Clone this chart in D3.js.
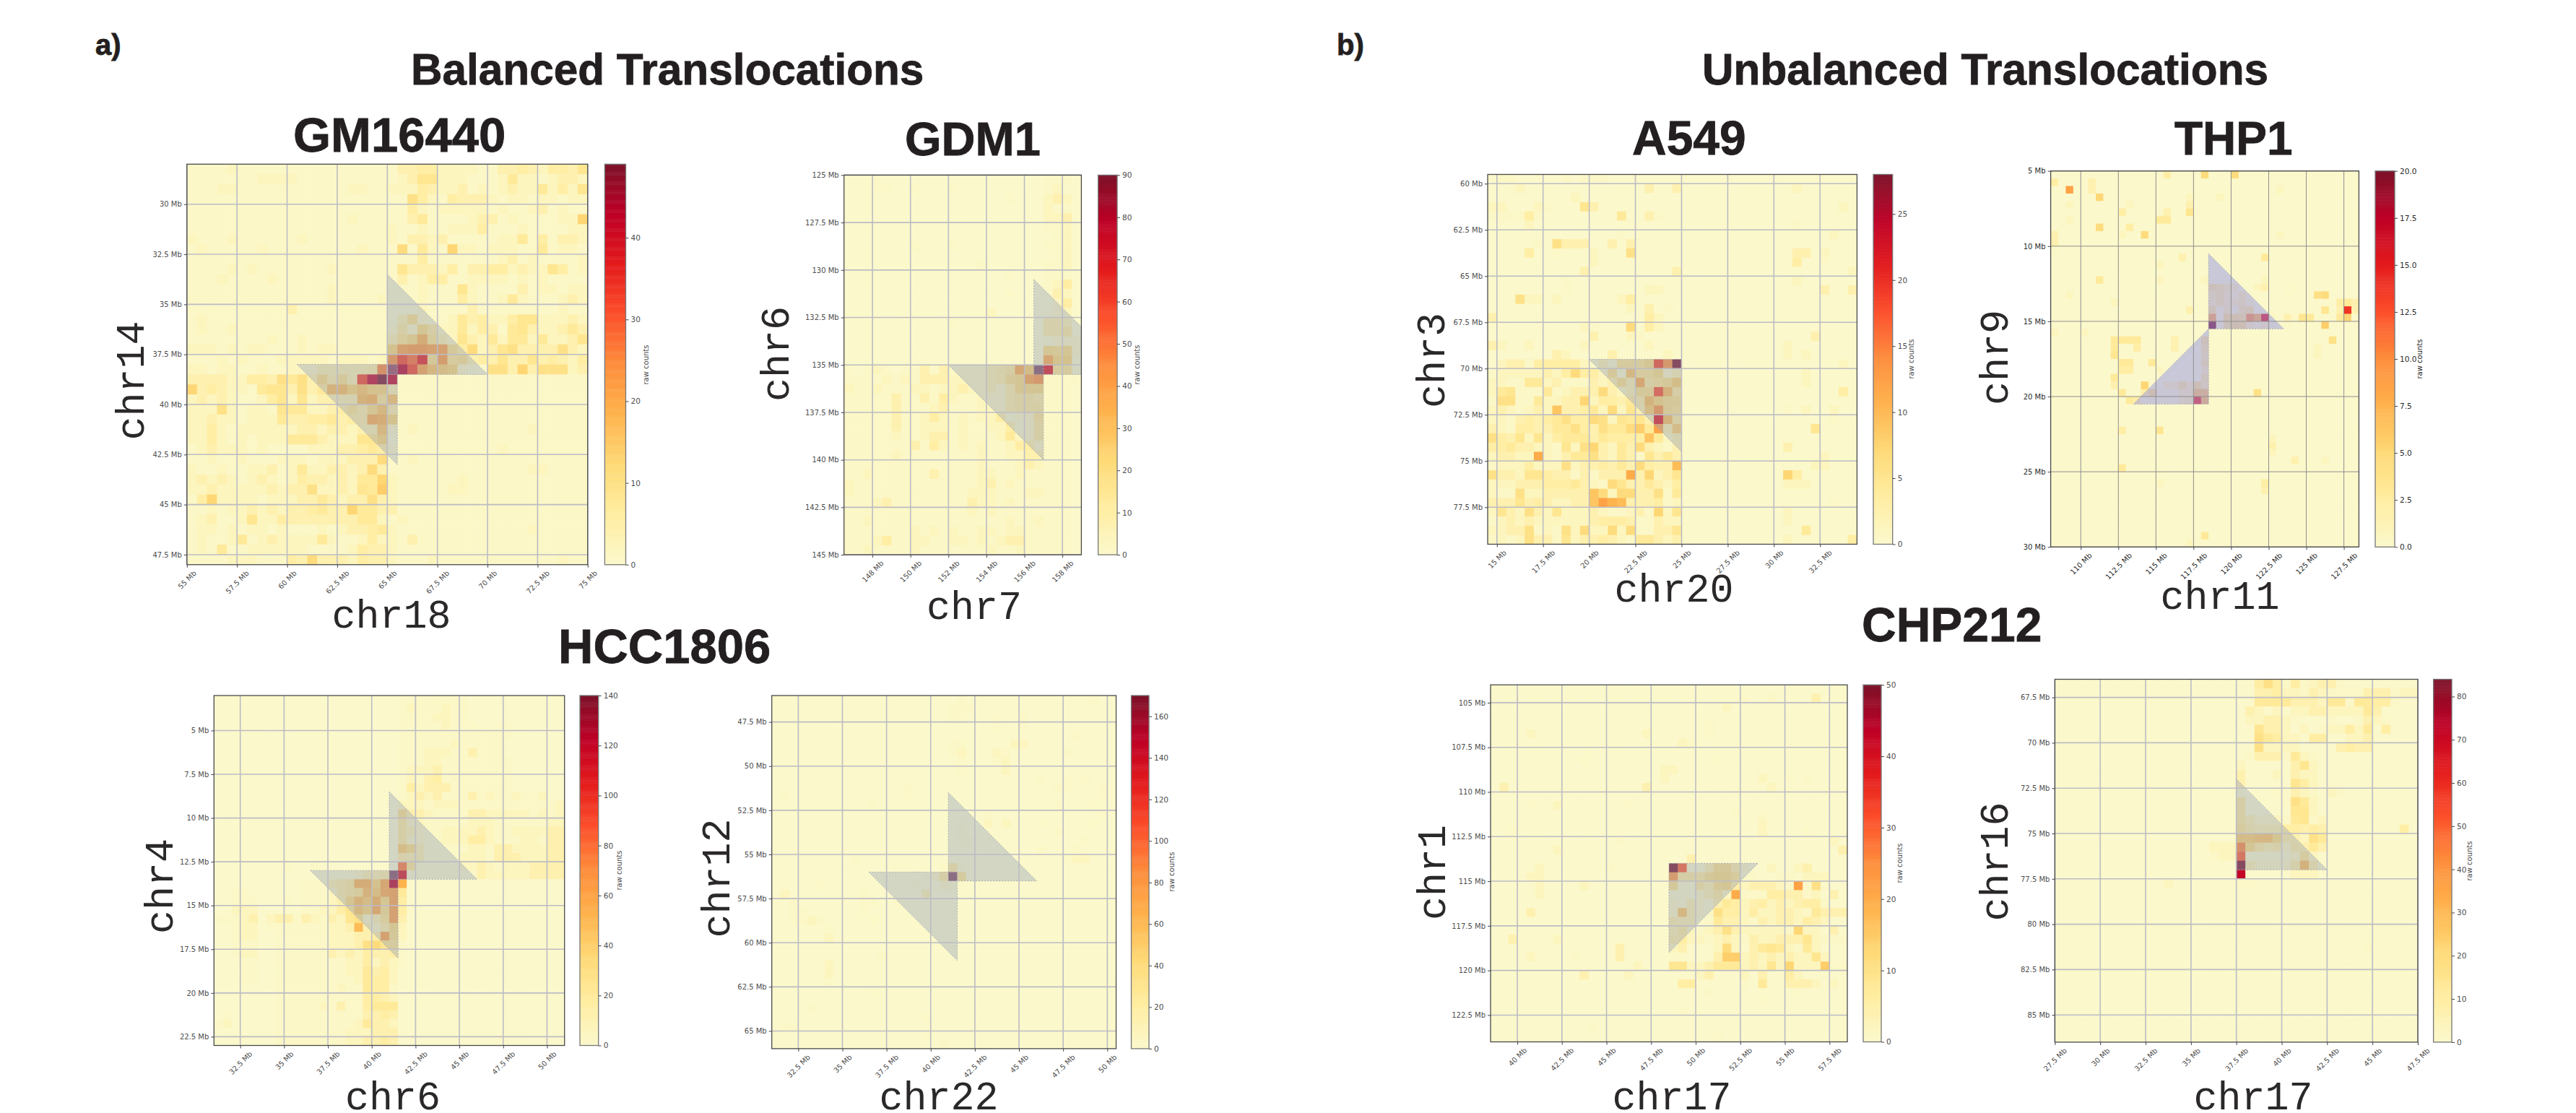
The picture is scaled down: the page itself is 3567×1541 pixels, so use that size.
<!DOCTYPE html>
<html><head><meta charset="utf-8">
<style>html,body{margin:0;background:#fff}svg{display:block}</style>
<script src="https://cdn.jsdelivr.net/npm/d3@7"></script></head><body>
<script>
// Every cell is one base-36 character: a level on a 0..35 scale of the panel's colour-bar maximum.
const rowsGM16440=[
"1111211111 1111111111 1334422221 1334324436","1111111222 2111111111 1236622211 1252212332","1112211111 1111112211 2224322312 1232252426","1111111111 1111111111 1174214333 2122122122",
"1111111111 1111111111 1142122222 1211231211","1111111111 1111112111 1135111123 3121111229","1111111111 1111111111 2112112224 1112111122","2111211111 1211111111 2133231111 1225141332",
"1211111211 1111111211 1815219221 2221151221","1111111111 1111111111 1114111111 1231211112","1111212111 1111211111 1633324133 4423226412","1112111121 1111111111 1312441122 2212121111",
"1111111111 1111211111 1112111621 1113122122","1111111111 1111211112 1112111421 1252111232","1111111111 3111111111 1112111131 1111111211","1211111111 1111111111 1372112534 2246622232",
"1211211111 1111111111 2528522524 3156322353","1111111121 1211111111 368d632632 5255252236","2221212211 1212211111 9fggff7482 3673333732","1112121112 2222122212 hnkq7g6734 3633634324",
"2212211211 222333334i xvnfba9210 7739377723","3333224437 5738473nuz u111111111 1111111111","9343221566 3735cc9b99 3111111111 1111111111","2323211246 2623333cd6 b111111111 1111111111",
"2227212216 552234648b 4111111111 1111111111","2232212225 33445344ed 9111111111 1111111111","2242122222 233233233b 2121111111 1111211111","2242121222 5553222669 1111111111 1111111111",
"1232221211 1122233454 2111111111 1211111111","1121121112 2212223338 1121111111 1111111111","2112112231 2522332383 1111111111 1111221111","2323212321 2433232559 2111111211 1111111111",
"2232222232 337223265a 2111112211 1111111111","1492222122 2335323373 2111111111 1111111111","1121223232 3345339553 3111111111 1111111111","1231126224 3333333552 1211111111 1111111111",
"1221212212 1112123345 2111111111 1111211111","1211251232 2225211242 2131111111 1111111111","1215112222 2211112433 2111111111 1111111111","1111222111 4383332433 2111211111 1111111211"];
const rowsGDM1=[
"0001000000 0000000000 01110","0001100100 0100000000 01200","0000000000 0000000100 02320","0000000000 0000000000 02110","0000000000 0000000000 02230","0000000000 0000000000 01120","0000000000 0000000000 00120",
"0000000100 0100000000 01120","0000000000 0000000000 00120","0000000000 0000100000 01120","0000000000 0000000100 01110","0000000000 0000000000 01240","0000000000 0000000100 01320","0000000000 0000000000 00240",
"0000000000 0000020000 01220","0000000000 0100000000 04430","0000000000 0000000000 04450","0000000000 0000000000 01222","0000000000 0000000000 08782","0000000000 0000000000 0e991",
"1012101131 31222345ea zr661","1111212133 322223478f h1111","2112111221 2232232488 81110","1111131131 4211222455 41110","1111131112 3111222455 51110","1111131124 2121224122 61110",
"1111131122 2121122412 51110","1111121123 3121112522 51110","1111111314 2121211244 21110","1111121111 1111211223 31110","1111111111 1111211123 21110","1121111113 1111221121 11110",
"2111111111 1111231211 11110","2111111111 1112221112 21110","1112311111 1113221211 11110","1111111111 1112121111 11110","1121111111 1111111211 21110","1111111212 1211221221 11110",
"1112411221 1221212331 11110","1121111211 1111121121 11110"];
const rowsHCC4v6=[
"0000000000 0000000000 0111111110 0000000000","0000000000 0000000000 0121112110 0000000000","0000000000 0000000000 0111122110 0000000000","0000000000 0000000000 0111112111 0011000000",
"0000000000 0000000000 0111111111 1111000000","0000000000 0000000000 0111111211 1110000000","0000000000 0000000000 0111222113 1110000000","0000000000 0000000000 0111221111 1111000000",
"0000000000 0000000000 0122231111 1111000000","0000000000 0000000000 0121341111 1111000000","0000000000 0000000000 0142333111 1111000000","0000000000 0000000000 0123231113 1211211200",
"0000000000 0000000000 0222122211 1111111112","0000000000 0000000000 0733211113 3222221212","0000000000 0000000000 0522111112 2211111122","0000000000 0000000000 0532112222 3211222233",
"0000000000 0000000000 0522112224 4211122133","0000000000 0000000000 0a83111112 2133222233","0000000000 0000000000 0433111122 2133322233","0000000010 0100000000 0j61111122 3212223333",
"0000000000 0011112334 zs11111111 3222223333","0000000000 111345dd9e vd00000000 0000000000","0011000000 1112456cae f500000000 0000000000","0011100010 111238cad8 f400000000 0000000000",
"0022200000 112246b9e7 f400000000 0000000000","1112302331 3213267236 f300000000 0000000000","0012201111 111223c324 8200000000 0000000000","0012200111 111222334f 7200000000 0000000000",
"0011100111 1112223786 6100000000 0000000000","0012200111 1113232433 4100000000 0000000000","0001100111 1111122423 2100000000 0000000000","0001100111 1111122534 2000000000 0000000000",
"0001100111 1111112544 2000000000 0000000000","0000000111 1111211544 1000000000 0000000000","0000000111 1111111443 2000000000 0000000000","0000000111 1121311455 5000000000 0000000000",
"0100000111 1111111334 3000000000 0000000000","1200000111 1111112533 2000000000 0000000000","0000000111 1111122233 3000000000 0000000000","0000000111 1111122334 3000000000 0000000000"];
const rowsHCC12v22=[
"0000000000 0000000000 0100000000 000000100","0000000000 0000000000 1110000000 000000000","0000000000 0000000000 1100010010 000000000","0000000000 0000000000 0000010010 000000000",
"0000000000 0000000000 0000000000 000010000","0000000000 0000000000 1100000220 000000000","0000000000 0000000000 1200021000 000100000","0000000000 0000000000 0100012000 000000000",
"0000000000 0000000000 0100002000 000000000","0000000000 0000000000 0000000000 100101000","0000000000 0000010000 0000000000 001100010","0100000000 0000010000 0000000000 000000010",
"0000000000 0100000000 0000000000 001000100","0000000000 0000000000 0000100000 000000010","0000000000 0000000000 0100202000 100000100","0000000000 0000000000 0100000000 001000000",
"0000000000 0000000000 0110000000 000001000","0000000000 0000000000 0000000000 100010000","0000000001 0000000000 0000000000 000122000","0000000000 0000000001 5100000000 000000000",
"0000000000 0000000125 z600000000 000000000","0000010000 0000001002 1000000000 000000000","0200000000 1000000300 0000000000 000000000","0010000000 1100100000 0000000000 000000000",
"0011000000 1000000000 0000000000 000000000","0011210000 0100000000 0000000000 000000000","0000001000 0000000000 0000000000 000000000","0000002000 0000000000 0000000000 000000000",
"0000000000 0000000000 0000000000 000000000","0000000000 0010000000 0000000000 000000000","0000002000 0000000000 0000000000 000000000","0000002000 0000000000 0000000000 000000000",
"0000001000 0000000000 0000000000 000000000","0000000000 0100000000 0000000000 000000000","0000000000 0000000000 0000000000 000000000","0000100000 0000000000 0000000000 000000000",
"0000000000 0000000100 0000000000 000000000","0110000000 0000000000 0000000000 000000000","0000000000 0000000100 0000000000 000000000","0000000000 0000000001 0000000000 000000000"];
const rowsA549=[
"0110000010 1110000000 0000000000 0000000000","0002000000 0000000300 3000000000 0002000000","0000000002 0000000000 0000000000 0000000000","2200021000 6300000000 0000000000 0000000020",
"1111410000 0000500310 0000000000 0000000000","0000200000 0000000000 0000000000 0001000000","0000000000 0000100000 0000000000 0000000200","0000010733 3003030000 0000000000 0000000000",
"0000400100 0200070000 0000000000 0003302000","0000000000 0200000000 0000000000 0004001000","0000000000 3000000000 3000000000 0000000002","0000000010 0000000000 0000000000 0002000000",
"0000000010 0000000220 0000000000 0000003003","0007220200 0000240000 0000000000 0000000000","0000000000 0000020301 0000000000 0000000000","3000000000 0000000420 0000000000 0000000000",
"0000000000 2100080420 0000000000 0000000000","0000000000 0300021000 0000000000 0000030000","3200200000 2000000200 0000000000 0020000000","0000000320 0003000002 0000000000 0020200000",
"0233144444 21316668nh z000000000 0000000020","1222223248 44271b6682 3000000000 0000200000","2211552311 132373e567 a000000000 0000200000","2561115123 33832377mc 5000000000 0000000040",
"1771152233 9244354c97 7000000000 0000000000","2321232b33 4528263ah7 6000000000 0010200200","2213434574 48726563rc 5000000000 0000000100","3214433557 437558a5f3 a000000000 0000060000",
"7436262455 5354444b52 3000000000 0000000000","4453322162 7932538321 3000000000 0030000000","23322e2135 5732531635 3000000000 0000002000","1222422272 3343538433 c000000000 0000022000",
"7332664331 31333e3923 6000000000 0094000000","2223334445 3218633532 4000000000 0022200000","2117223333 3b82883371 5000000000 0000000000","3336343223 3bfdc33341 2000000000 0000000100",
"2632732622 2321123192 6000000000 0020000000","1232322222 2344431132 2000000000 0020000000","2233712172 8228281133 6000000000 0000500000","1212733162 3343215532 3000000000 0020000004"];
const rowsTHP1=[
"0000000000 0000040000 8000800000 00000000000","4000030000 0000000000 0000000000 00000000000","00f0030000 0000000000 0000000000 20000000000","0000009000 0000000020 0020000000 00000000000",
"0020000000 2000000030 0000000000 00000000000","0000000004 0000030060 0000000000 00000000000","0020000000 0000550000 0000000000 00000000000","0000008000 4000000000 0000000000 00000000000",
"3000000002 0080000000 0000000000 20000000000","3000000000 0000000000 0000000000 00000000000","1000000000 0000000000 0000000000 00000000000","0000000000 0000000300 0000000050 00000000000",
"0000000000 0000200000 0000000000 00000000000","0000000000 0000000000 0000000010 00000000000","0000005000 0000200000 2000000020 00000000000","0000000000 0000000000 0654300230 00100000000",
"0020000000 0000000000 0453240000 01000780000","0000000020 0000000000 0353342000 00000000453","0000000000 0000000030 0614156000 000000603o3","0000000000 0000000000 0e1776hdr1 03165000590",
"0000000000 0000000000 0z16773231 010000a0000","2000200000 0000000000 0000000000 00000000000","0000000055 5500003000 6000000000 00000007000","0000000050 0400003000 5000000000 00000200000",
"0000000060 0000000000 4000000000 00000200000","0000000005 5005000000 5000000000 00000000000","0000000004 4000200000 3000000000 00000000000","0000000050 0000000000 5000000000 00000000000",
"0000000030 0090033637 4000000000 00000000000","0000000005 004711133b b000000700 00000000000","0000000000 541112134p c000000000 00000000000","0000000000 0000000000 0000000000 00000000000",
"0000000000 0000000000 0000000000 00000000000","0000000000 0000000000 0000000000 00000000000","0000000004 0000600000 0000000000 00000000000","0000000000 0000000000 0000000002 00000000000",
"0000000000 0000000000 0000000003 00000000000","0000000000 0000000000 0000000002 00000000000","0000000000 0000000000 0000000000 00300020000","0000000005 0000000000 0000000000 00000000000",
"0000000000 0000000000 0000000000 00000000000","0000000000 0000200000 0000000040 00000000000","0000000000 0000000000 0000000030 00000000000","0000000000 0000000000 0000000000 00000000000",
"0000000000 0000000000 0000000000 00000000000","0000000000 0000000000 0000000000 00000000000","0000000000 0000000000 0000000000 00000000000","0000000000 0000000000 0000000000 00000000000",
"0000000000 0000000000 5000000000 00000000000","0000000000 0000000020 0000000000 00000000000"];
const rowsCHP1v17=[
"0000000000 0000000000 0000000000 0000000000","0000000000 0000000000 0000000010 0100003000","0000000000 0000000000 0000002000 0000000000","0000000000 0000000000 0000000000 0000000000",
"0000000000 0000000000 0000100000 0000000000","0000200000 0000000200 0000100000 0000000000","0000000000 0000000000 0210000000 0000000000","0000000000 0000000000 0000000000 0000000000",
"0000000000 1000000000 0000010000 0000000000","0000000000 0000000002 2000000000 0000000000","0000000000 0000000002 0000000000 2001010000","0300000000 0000000300 0000000000 0200000000",
"0000000000 0000000000 0000000000 0000000000","0000100200 0000010000 0000000000 0000000000","0000000000 0000000000 0000000100 1000000000","0000000000 0000000000 0000000000 2000000000",
"0010000000 0000000000 0000000000 2000010000","0000000000 0000100000 0000000000 0000000020","0000000200 0000000000 0000000000 0000000003","0000000000 0000000000 0030000000 0000000000",
"0000020000 0001000000 zl11377420 0200230000","0000220000 0000000000 g555788611 0011022200","0000020000 2000000000 7115378423 3321f17100","0000020000 0000000000 1112352e11 1443312030",
"0000000000 0000000000 2132135423 4232344100","0000300000 0000000000 2b32174424 2233215333","0000000000 0000000000 4331153321 3233243200","0000000000 0000000000 3521237322 2221922030",
"0030000200 0000000000 4422123213 2233362111","0000000000 0000300000 2300028203 5652152000","0000200001 0000300000 110003aa23 2323226200","0000000000 0000002000 6622355523 2629222a11",
"0000000000 3000020000 0002300020 3004200000","0000000000 0000000000 0440000010 5003332020","0000000000 0000000000 0000100000 0000100000","0000000000 0000000000 0000000000 1000000000",
"0000000000 0000000000 0100000000 0000000000","0000000000 0000000000 0000000000 0000000000","0000000000 0100000000 0000000000 0000000000","0000000000 0000000000 0000010000 0000000000"];
const rowsCHP16v17=[
"0000000000 0000000000 0047414123 3100000000","0000000000 0000000000 0033422132 1111333122","0000000000 0000000000 0055553332 5515544100","0000000000 0000000000 0320202233 2222530000",
"0000000000 0000000000 0223321000 1001321000","0000000000 0000000000 0063320201 2242504000","0000000000 0000000000 0075422044 0022300000","0000000000 0000000000 0072222000 0343300000",
"0000000000 0000000000 0133315210 0000000000","0000000000 0000000000 2000003620 0000000000","0000000000 0000000000 3000203220 0000000000","0000000000 0000000000 3000006420 0000000000",
"0000000000 0000000000 1000103210 2100000000","0000000000 0000000000 5000017520 0000000000","0000000000 0000000000 5000006620 0000000000","0000000000 0000000000 5322215612 0000000000",
"0000000000 0000000000 6433344343 0000000040","0000000000 0000000000 aabb843275 0000000000","0000000000 0000000222 i853424353 0000000000","0000000000 0000000122 l111112620 0000000000",
"0000000000 0000000000 z322224c41 0000000000","0000000000 0000000000 u000002220 0000000000","0000000000 0020000000 1100000000 0000000000","0000000000 0000000000 0000000000 0000000000",
"0000000000 0000000000 0000000000 0000000000","0000000000 0000000000 0000000000 0000000000","0000000000 0000000000 0000000000 0000000000","0000000000 0000000000 0000000000 0000000000",
"0000000000 0000000000 0000000000 0000000000","0000000000 0000000000 0000000000 0000100000","0000000000 0000000000 0000000000 0000000000","0000000000 0000000000 0000000000 0000000000",
"0000000000 0000000000 0000000000 0000000000","0000000000 0000000000 0000000000 0000000000","0000000000 0000000000 0000000000 0000000000","0000000000 0000000000 0000000000 0000000000",
"0000000000 0000000000 0000000000 0000000000","0000000000 0000000000 0000000000 0000000000","0000000000 0000000000 0000000000 0000000000","0000000000 0000000000 0000000000 0000000000"];

// The two palest levels are fainter than a whole step of the scale
const paleLevels=[0,0.4,1.3];

// Colour-bar ticks
const cbarTicks50by10=[0,10,20,30,40];
const cbarTicks90=[0,10,20,30,40,50,60,70,80,90];
const cbarTicks140=[0,20,40,60,80,100,120,140];
const cbarTicks160=[0,20,40,60,80,100,120,140,160];
const cbarTicks25=[0,5,10,15,20,25];
const cbarTicks20=[0,2.5,5,7.5,10,12.5,15,17.5,20];
const cbarTicks50=[0,10,20,30,40,50];
const cbarTicks80=[0,10,20,30,40,50,60,70,80];

// Axis ticks (Mb) and marked triangles (Mb)
const xTicks1=[55,57.5,60,62.5,65,67.5,70,72.5,75], yTicks1=[30,32.5,35,37.5,40,42.5,45,47.5];
const xTicks2=[148,150,152,154,156,158], yTicks2=[125,127.5,130,132.5,135,137.5,140,142.5,145];
const xTicks3=[32.5,35,37.5,40,42.5,45,47.5,50], yTicks3=[5,7.5,10,12.5,15,17.5,20,22.5];
const xTicks4=[32.5,35,37.5,40,42.5,45,47.5,50], yTicks4=[47.5,50,52.5,55,57.5,60,62.5,65];
const xTicks5=[15,17.5,20,22.5,25,27.5,30,32.5], yTicks5=[60,62.5,65,67.5,70,72.5,75,77.5];
const xTicks6=[110,112.5,115,117.5,120,122.5,125,127.5], yTicks6=[5,10,15,20,25,30];
const xTicks7=[40,42.5,45,47.5,50,52.5,55,57.5], yTicks7=[105,107.5,110,112.5,115,117.5,120,122.5];
const xTicks8=[27.5,30,32.5,35,37.5,40,42.5,45,47.5], yTicks8=[67.5,70,72.5,75,77.5,80,82.5,85];
const tri1=[[[65,33.5],[65,38.5],[70,38.5]],[[60.5,38],[65.5,38],[65.5,43]]];
const tri2=[[[156.5,130.5],[156.5,135.5],[161.5,135.5]],[[152,135],[157,135],[157,140]]];
const tri3=[[[41,8.5],[41,13.5],[46,13.5]],[[36.5,13],[41.5,13],[41.5,18]]];
const tri4=[[[41,51.5],[41,56.5],[46,56.5]],[[36.5,56],[41.5,56],[41.5,61]]];
const tri5=[[[20,69.5],[25,69.5],[25,74.5]]];
const tri6=[[[118.5,10.5],[118.5,15.5],[123.5,15.5]],[[118.5,15.5],[118.5,20.5],[113.5,20.5]]];
const tri7=[[[48.5,114],[53.5,114],[48.5,119]]];
const tri8=[[[37.5,72],[37.5,77],[42.5,77]]];

// Layout table: data references plus pixel boxes
const panels=[
{rows:rowsGM16440,max:49,xd:[55,75],yd:[28,48],xt:xTicks1,yt:yTicks1,cb:cbarTicks50by10,tri:tri1,box:[258.8,227.3,813.8,781.8],cbx:[837.4,866.5],xl:["chr18",542,869],yl:["chr14",199,527],rc:[894,505]},
{rows:rowsGDM1,max:90,xd:[146.5,159],yd:[125,145],xt:xTicks2,yt:yTicks2,cb:cbarTicks90,tri:tri2,box:[1168.7,242.4,1497.4,768.1],cbx:[1520.6,1547],xl:["chr7",1349,857],yl:["chr6",1092,490],rc:[1574,505]},
{rows:rowsHCC4v6,max:140,xd:[31,51],yd:[3,23],xt:xTicks3,yt:yTicks3,cb:cbarTicks140,tri:tri3,box:[296.3,963,781.7,1447.5],cbx:[803,828.7],xl:["chr6",544,1536],yl:["chr4",239,1227],rc:[857,1205]},
{rows:rowsHCC12v22,max:170,xd:[31,50.5],yd:[46,66],xt:xTicks4,yt:yTicks4,cb:cbarTicks160,tri:tri4,box:[1068.7,963,1545.5,1451.9],cbx:[1566.5,1591],xl:["chr22",1300,1536],yl:["chr12",1010,1216],rc:[1622,1207]},
{rows:rowsA549,max:28,xd:[14.5,34.5],yd:[59.5,79.5],xt:xTicks5,yt:yTicks5,cb:cbarTicks25,tri:tri5,box:[2060,241.5,2571.4,753.5],cbx:[2594,2620.7],xl:["chr20",2318,833],yl:["chr3",2000,499],rc:[2646,497]},
{rows:rowsTHP1,max:20,xd:[108,128.5],yd:[5,30],xt:xTicks6,yt:yTicks6,cb:cbarTicks20,tri:tri6,box:[2839.6,236.7,3266.4,757.3],cbx:[3289,3316],xl:["chr11",3074,843],yl:["chr9",2780,495],rc:[3350,497],thp:true},
{rows:rowsCHP1v17,max:50,xd:[38.5,58.5],yd:[104,124],xt:xTicks7,yt:yTicks7,cb:cbarTicks50,tri:tri7,box:[2064,948.2,2558,1442.5],cbx:[2580,2605],xl:["chr17",2315,1536],yl:["chr1",2001,1208],rc:[2630,1195]},
{rows:rowsCHP16v17,max:84,xd:[27.5,47.5],yd:[66.5,86.5],xt:xTicks8,yt:yTicks8,cb:cbarTicks80,tri:tri8,box:[2845.4,940.5,3348,1442.9],cbx:[3369.6,3395],xl:["chr17",3120,1536],yl:["chr16",2780,1193],rc:[3419,1192]}
];
const headings=[
["a)",132,76,40],["b)",1851,76,40],
["Balanced Translocations",569,117,60.3],["Unbalanced Translocations",2357,117,60.3],
["GM16440",406,210,67],["GDM1",1253,215,65],["HCC1806",773,918,67],
["A549",2260,214,66],["THP1",3011,214,64],["CHP212",2578,888,66]];
const binSize=0.5;

const svg=d3.select("body").append("svg").attr("width",3567).attr("height",1541)
  .style("background","#fff");
const soft=svg.append("defs").append("filter").attr("id","soft")
  .attr("x","-2%").attr("y","-2%").attr("width","104%").attr("height","104%")
  .attr("color-interpolation-filters","sRGB");
soft.append("feGaussianBlur").attr("stdDeviation",0.7);
const palette=d3.piecewise(d3.interpolateRgb,["#fbf8cb","#ffeda0","#fed976","#feb24c","#fd8d3c","#fc4e2a","#e31a1c","#bd0026","#7b1228"]);
const mb=d=>d+" Mb", sans="DejaVu Sans", tickCol="#4d4d4d", inkCol="#2b2829";

panels.forEach((p,pi)=>{
  const [x0,y0,x1,y1]=p.box;
  const x=d3.scaleLinear().domain(p.xd).range([x0,x1]);
  const y=d3.scaleLinear().domain(p.yd).range([y0,y1]);
  const col=d3.scaleSequential(palette).domain([0,p.max]);
  const g=svg.append("g");
  const clipId="clip"+pi;
  svg.append("clipPath").attr("id",clipId).append("rect").attr("x",x0).attr("y",y0).attr("width",x1-x0).attr("height",y1-y0);
  const cells=[];
  p.rows.forEach((s,r)=>{ s.replace(/ /g,"").split("").forEach((ch,c)=>{
    const L=parseInt(ch,36);
    cells.push({r,c,v:(L<paleLevels.length?paleLevels[L]:L)*p.max/35});
  }); });
  g.append("g").attr("clip-path",`url(#${clipId})`).append("g").attr("filter","url(#soft)")
    .selectAll("rect").data(cells).join("rect")
    .attr("x",d=>x(p.xd[0]+d.c*binSize)).attr("y",d=>y(p.yd[0]+d.r*binSize))
    .attr("width",d=>x(p.xd[0]+(d.c+1)*binSize)-x(p.xd[0]+d.c*binSize)+.4)
    .attr("height",d=>y(p.yd[0]+(d.r+1)*binSize)-y(p.yd[0]+d.r*binSize)+.4)
    .attr("fill",d=>col(d.v));
  const line=d3.line().x(d=>x(d[0])).y(d=>y(d[1]));
  g.append("g").attr("clip-path",`url(#${clipId})`).selectAll("path").data(p.tri).join("path")
    .attr("d",d=>line(d)+"Z")
    .attr("fill",p.thp?"#9798e5":"#97a3b7").attr("fill-opacity",p.thp?0.5:0.4)
    .attr("stroke","#a9aeb4").attr("stroke-width",1).attr("stroke-dasharray","2 2");
  // grid
  const gc=p.thp?"#8f8f8f":"#bcbcc4", gw=p.thp?1:1.6;
  g.append("g").selectAll("line").data(p.xt).join("line")
    .attr("x1",d=>x(d)).attr("x2",d=>x(d)).attr("y1",y0).attr("y2",y1).attr("stroke",gc).attr("stroke-width",gw);
  g.append("g").selectAll("line").data(p.yt).join("line")
    .attr("y1",d=>y(d)).attr("y2",d=>y(d)).attr("x1",x0).attr("x2",x1).attr("stroke",gc).attr("stroke-width",gw);
  g.append("rect").attr("x",x0).attr("y",y0).attr("width",x1-x0).attr("height",y1-y0)
    .attr("fill","none").attr("stroke","#4a4a4a").attr("stroke-width",1.3);
  // axes
  const tc=p.thp?"#2a2a2a":tickCol;
  const ax=g.append("g").attr("transform",`translate(0,${y1})`)
    .call(d3.axisBottom(x).tickValues(p.xt).tickFormat(mb).tickSize(4).tickSizeOuter(0));
  const ay=g.append("g").attr("transform",`translate(${x0},0)`)
    .call(d3.axisLeft(y).tickValues(p.yt).tickFormat(mb).tickSize(4).tickPadding(3).tickSizeOuter(0));
  [ax,ay].forEach(a=>{
    a.select(".domain").remove();
    a.selectAll("line").attr("stroke","#444");
    a.selectAll("text").attr("font-family",sans).attr("font-size",10).attr("fill",tc);
  });
  ax.selectAll("text").each(function(){
    const w=this.getComputedTextLength(), off=6.5+(w+10)*0.7071/2;
    d3.select(this).attr("y",null).attr("dy",null).attr("dominant-baseline","central")
      .attr("text-anchor","middle").attr("transform",`translate(0,${off}) rotate(-45)`);
  });
  // colour bar
  const [cx0,cx1]=p.cbx;
  const cy=d3.scaleLinear().domain([0,p.max]).range([y1,y0]);
  const steps=d3.range(0,256).map(i=>i/256*p.max);
  g.append("g").selectAll("rect").data(steps).join("rect")
    .attr("x",cx0).attr("width",cx1-cx0)
    .attr("y",d=>cy(d+p.max/256)).attr("height",d=>cy(d)-cy(d+p.max/256)+.4)
    .attr("fill",d=>col(d));
  g.append("rect").attr("x",cx0).attr("y",y0).attr("width",cx1-cx0).attr("height",y1-y0)
    .attr("fill","none").attr("stroke","#777").attr("stroke-width",1.3);
  const cax=g.append("g").attr("transform",`translate(${cx1},0)`)
    .call(d3.axisRight(cy).tickValues(p.cb).tickFormat(p.thp?d3.format(".1f"):d3.format("d")).tickSize(4).tickPadding(3).tickSizeOuter(0));
  cax.select(".domain").remove();
  cax.selectAll("line").attr("stroke","#444");
  cax.selectAll("text").attr("font-family",sans).attr("font-size",10.5).attr("fill",tc);
  g.append("text").text("raw counts").attr("font-family",sans).attr("font-size",10).attr("fill",tc)
    .attr("text-anchor","middle").attr("dominant-baseline","central")
    .attr("transform",`translate(${p.rc[0]},${p.rc[1]}) rotate(-90)`);
  // chromosome labels
  g.append("text").text(p.xl[0]).attr("x",p.xl[1]).attr("y",p.xl[2]).attr("text-anchor","middle")
    .attr("font-family","Liberation Mono").attr("font-size",55).attr("fill",inkCol);
  g.append("text").text(p.yl[0]).attr("text-anchor","middle")
    .attr("font-family","Liberation Mono").attr("font-size",55).attr("fill",inkCol)
    .attr("transform",`translate(${p.yl[1]},${p.yl[2]}) rotate(-90)`);
});
svg.append("g").selectAll("text").data(headings).join("text")
  .text(d=>d[0]).attr("x",d=>d[1]).attr("y",d=>d[2]).attr("font-size",d=>d[3])
  .attr("font-family","Liberation Sans").attr("font-weight",700).attr("fill","#231f20")
  .attr("stroke","#231f20").attr("stroke-width",0.8);
</script></body></html>
